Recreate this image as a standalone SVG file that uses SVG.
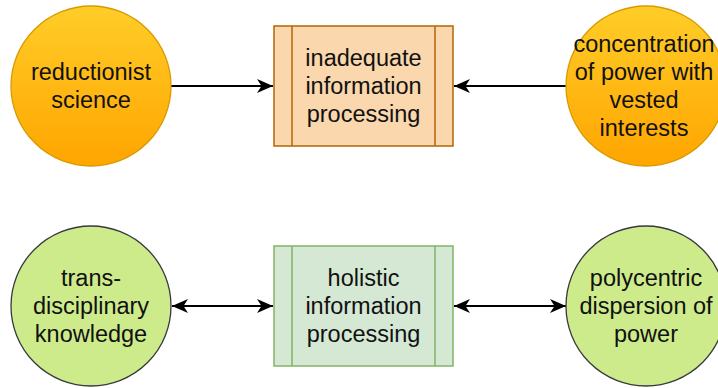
<svg xmlns="http://www.w3.org/2000/svg" width="718" height="388" viewBox="0 0 718 388">
  <style>
    text { font-family: "Liberation Sans", Arial, sans-serif; font-size: 23.5px; fill: #111; text-anchor: middle; }
    .orange { fill: url(#gradOrange); stroke: #d79b00; stroke-width: 1.3; }
    .peach { fill: #fad7ac; stroke: #b46504; stroke-width: 1.5; }
    .lime { fill: #cdeb8b; stroke: #36393d; stroke-width: 1.3; }
    .mint { fill: #d5e8d4; stroke: #82b366; stroke-width: 1.5; }
    .edge { stroke: #000; stroke-width: 1.8; fill: none; }
  </style>
  <defs>
    <linearGradient id="gradOrange" x1="0" y1="0" x2="0" y2="1">
      <stop offset="0" stop-color="#ffcd28"/>
      <stop offset="1" stop-color="#ffa500"/>
    </linearGradient>
    <!-- classic draw.io style arrowheads with notched back -->
    <marker id="arrowEnd" markerUnits="userSpaceOnUse" markerWidth="17" markerHeight="14" refX="16" refY="7" orient="auto">
      <path d="M0,0 L16,7 L0,14 L4.5,7 Z" fill="#000"/>
    </marker>
    <marker id="arrowStart" markerUnits="userSpaceOnUse" markerWidth="17" markerHeight="14" refX="1" refY="7" orient="auto">
      <path d="M17,0 L1,7 L17,14 L12.5,7 Z" fill="#000"/>
    </marker>
  </defs>

  <g id="connectors">
    <line class="edge" x1="171" y1="86" x2="273" y2="86" marker-end="url(#arrowEnd)"/>
    <line class="edge" x1="566" y1="86" x2="454" y2="86" marker-end="url(#arrowEnd)"/>
    <line class="edge" x1="172" y1="306" x2="273" y2="306" marker-start="url(#arrowStart)" marker-end="url(#arrowEnd)"/>
    <line class="edge" x1="454" y1="306" x2="566" y2="306" marker-start="url(#arrowStart)" marker-end="url(#arrowEnd)"/>
  </g>

  <g id="reductionist-science">
    <circle class="orange" cx="91" cy="86" r="80"/>
    <text x="91" y="80">reductionist</text>
    <text x="91" y="108">science</text>
  </g>

  <g id="inadequate-processing">
    <rect class="peach" x="274" y="26" width="179" height="120"/>
    <line class="peach" x1="292" y1="26" x2="292" y2="146"/>
    <line class="peach" x1="435" y1="26" x2="435" y2="146"/>
    <text x="363.5" y="66">inadequate</text>
    <text x="363.5" y="94">information</text>
    <text x="363.5" y="122">processing</text>
  </g>

  <g id="power-concentration">
    <circle class="orange" cx="646" cy="86" r="80"/>
    <text x="644" y="52">concentration</text>
    <text x="644" y="80">of power with</text>
    <text x="644" y="108">vested</text>
    <text x="644" y="136">interests</text>
  </g>

  <g id="transdisciplinary-knowledge">
    <circle class="lime" cx="91" cy="306" r="80"/>
    <text x="91" y="286">trans-</text>
    <text x="91" y="314">disciplinary</text>
    <text x="91" y="342">knowledge</text>
  </g>

  <g id="holistic-processing">
    <rect class="mint" x="274" y="246" width="179" height="120"/>
    <line class="mint" x1="292" y1="246" x2="292" y2="366"/>
    <line class="mint" x1="435" y1="246" x2="435" y2="366"/>
    <text x="363.5" y="286">holistic</text>
    <text x="363.5" y="314">information</text>
    <text x="363.5" y="342">processing</text>
  </g>

  <g id="polycentric-dispersion">
    <circle class="lime" cx="646" cy="306" r="80"/>
    <text x="646" y="286">polycentric</text>
    <text x="646" y="314">dispersion of</text>
    <text x="646" y="342">power</text>
  </g>
</svg>
